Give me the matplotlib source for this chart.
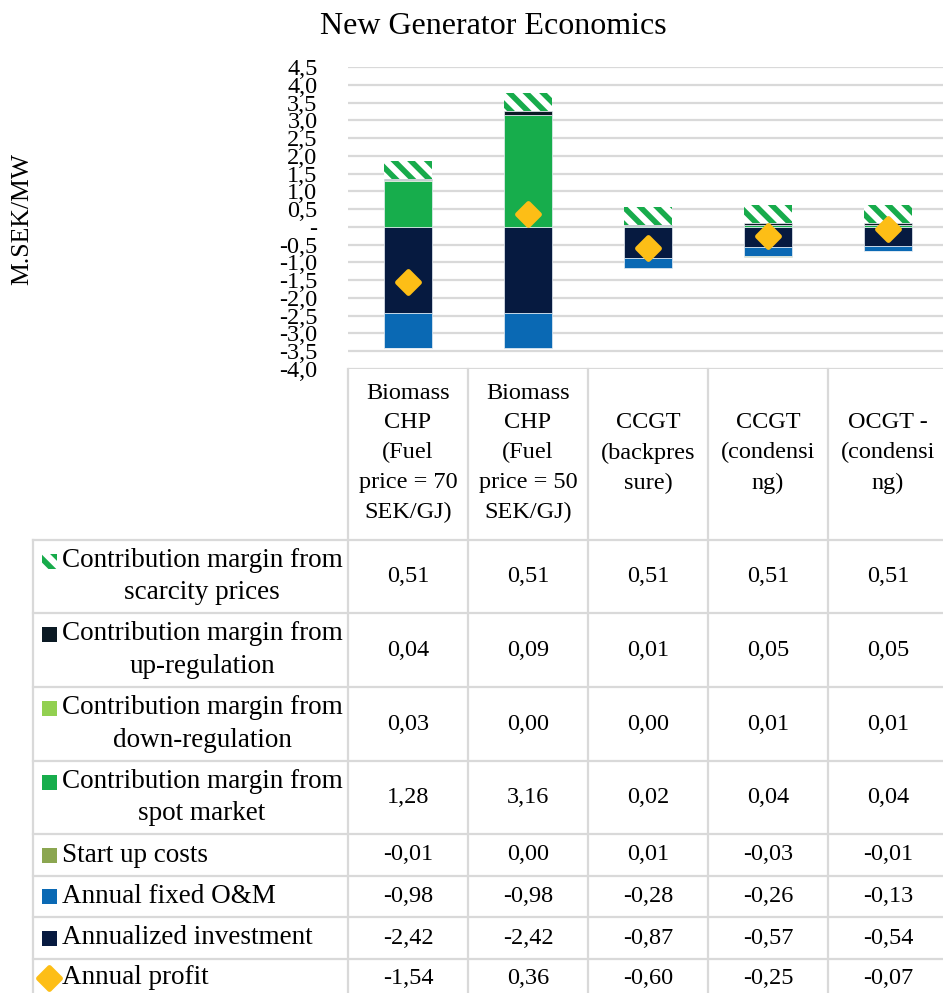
import matplotlib
matplotlib.use("Agg")
import matplotlib.pyplot as plt
import matplotlib.transforms as mtransforms
from matplotlib.markers import MarkerStyle
from matplotlib.patches import Rectangle
from matplotlib.lines import Line2D
import numpy as np

# ---------------- data ----------------
categories = [
    "Biomass\nCHP\n(Fuel\nprice = 70\nSEK/GJ)",
    "Biomass\nCHP\n(Fuel\nprice = 50\nSEK/GJ)",
    "CCGT\n(backpres\nsure)",
    "CCGT\n(condensi\nng)",
    "OCGT -\n(condensi\nng)",
]
row_labels = [
    "Contribution margin from\nscarcity prices",
    "Contribution margin from\nup-regulation",
    "Contribution margin from\ndown-regulation",
    "Contribution margin from\nspot market",
    "Start up costs",
    "Annual fixed O&M",
    "Annualized investment",
    "Annual profit",
]
scarcity = [0.51, 0.51, 0.51, 0.51, 0.51]
up_reg = [0.04, 0.09, 0.01, 0.05, 0.05]
down_reg = [0.03, 0.00, 0.00, 0.01, 0.01]
spot = [1.28, 3.16, 0.02, 0.04, 0.04]
start_up = [-0.01, 0.00, 0.01, -0.03, -0.01]
fixed_om = [-0.98, -0.98, -0.28, -0.26, -0.13]
investment = [-2.42, -2.42, -0.87, -0.57, -0.54]
profit = [-1.54, 0.36, -0.60, -0.25, -0.07]

y_ticks = [4.5, 4.0, 3.5, 3.0, 2.5, 2.0, 1.5, 1.0, 0.5, 0.0,
           -0.5, -1.0, -1.5, -2.0, -2.5, -3.0, -3.5, -4.0]
y_tick_labels = ["4,5", "4,0", "3,5", "3,0", "2,5", "2,0", "1,5", "1,0", "0,5", "-",
                 "-0,5", "-1,0", "-1,5", "-2,0", "-2,5", "-3,0", "-3,5", "-4,0"]

# ---------------- style ----------------
C_SCAR = "#17AB4B"
C_UP = "#0B1A24"
C_DOWN = "#92D050"
C_SPOT = "#17AD4C"
C_START = "#8BA650"
C_OM = "#0A69B4"
C_INV = "#061A40"
C_PROF = "#FDBE16"
GRID = "#D9D9D9"

FONT = ["Liberation Serif", "DejaVu Serif"]
plt.rcParams["font.family"] = FONT
plt.rcParams["hatch.linewidth"] = 4.0
plt.rcParams["hatch.color"] = C_SCAR

W, H = 943, 993
fig = plt.figure(figsize=(W / 100, H / 100), dpi=100)

def fx(px):
    return px / W

def fy(py):
    return 1 - py / H

ax_left, ax_right, ax_top, ax_bot = 348, 948, 67, 369
ax = fig.add_axes([fx(ax_left), fy(ax_bot), fx(ax_right - ax_left), (ax_bot - ax_top) / H])
x = np.arange(len(categories))
bw = 0.4
HATCH = "\\\\"

# stacking order (Excel-like): investment, O&M, start up, spot, down, up, scarcity
stack = [
    (investment, C_INV, None),
    (fixed_om, C_OM, None),
    (start_up, C_START, None),
    (spot, C_SPOT, None),
    (down_reg, C_DOWN, None),
    (up_reg, C_UP, None),
    (scarcity, "white", HATCH),
]
pos_base = np.zeros(len(x))
neg_base = np.zeros(len(x))
for vals, col, hatch in stack:
    v = np.array(vals, dtype=float)
    base = np.where(v >= 0, pos_base, neg_base)
    if hatch:
        ax.bar(x, v, bw, bottom=base, color="white", edgecolor=C_SCAR,
               linewidth=0, hatch=hatch, zorder=3)
    else:
        ax.bar(x, v, bw, bottom=base, color=col, edgecolor="#E8EEF4",
               linewidth=0.5, zorder=3)
    pos_base = pos_base + np.where(v >= 0, v, 0)
    neg_base = neg_base + np.where(v < 0, v, 0)

dm = MarkerStyle("D", joinstyle="round")
ax.plot(x, profit, linestyle="none", marker=dm, markersize=11.5,
        markerfacecolor=C_PROF, markeredgecolor=C_PROF, markeredgewidth=3.5, zorder=5)

ax.set_xlim(-0.5, len(x) - 0.5)
ax.set_ylim(-4.0, 4.5)
ax.set_yticks(y_ticks)
ax.set_yticklabels(y_tick_labels, fontsize=17.5)
ax.tick_params(axis="y", length=0, pad=22)
ax.set_xticks([])
ax.grid(axis="y", color=GRID, linewidth=1.6, zorder=0)
ax.set_axisbelow(True)
for s in ax.spines.values():
    s.set_visible(False)

fig.text(fx(493), fy(27), "New Generator Economics", fontsize=23,
         ha="center", va="center")
fig.text(fx(22), fy(219), "M.SEK/MW", fontsize=18.5, rotation=90,
         ha="center", va="center")

# ---------------- data table ----------------
blend = mtransforms.blended_transform_factory(ax.transData, fig.transFigure)
row_edges = [540, 613, 687, 761, 834, 876, 917, 959, 1001]
tbl_left = 33
lw_t = 1.6

for i in range(len(x) + 1):
    xv = i - 0.5
    fig.add_artist(Line2D([xv, xv], [fy(ax_bot), fy(row_edges[-1])], transform=blend,
                          color=GRID, linewidth=lw_t, zorder=1))
for i, cat in enumerate(categories):
    fig.text(i, fy(453), cat, transform=blend, fontsize=17.5, ha="center",
             va="center", multialignment="center", linespacing=1.55)

for r in row_edges:
    fig.add_artist(Line2D([fx(tbl_left), fx(ax_right)], [fy(r)] * 2,
                          transform=fig.transFigure, color=GRID, linewidth=lw_t))
fig.add_artist(Line2D([fx(tbl_left)] * 2, [fy(row_edges[0]), fy(row_edges[-1])],
                      transform=fig.transFigure, color=GRID, linewidth=lw_t))

table_rows = [scarcity, up_reg, down_reg, spot, start_up, fixed_om, investment, profit]
key_colors = [None, C_UP, C_DOWN, C_SPOT, C_START, C_OM, C_INV, None]

def fmt(v):
    s = f"{v:.2f}".replace(".", ",")
    if s == "-0,00":
        s = "0,00"
    return s

for r, (label, vals, kc) in enumerate(zip(row_labels, table_rows, key_colors)):
    top, bot = row_edges[r], row_edges[r + 1]
    yc = (top + bot) / 2
    if r == len(row_labels) - 1:
        yc = 978
    two = "\n" in label
    if two:
        fig.text(fx(202), fy(yc), label, fontsize=19.5, ha="center", va="center",
                 multialignment="center", linespacing=1.4)
        ky = yc - 15.5
    else:
        fig.text(fx(62), fy(yc), label, fontsize=19.5, ha="left", va="center")
        ky = yc
    if r == 0:
        fig.add_artist(Rectangle((fx(42), fy(ky + 7.5)), fx(15), 15 / H,
                                 transform=fig.transFigure, facecolor="white",
                                 edgecolor=C_SCAR, linewidth=0, hatch=HATCH))
    elif kc is not None:
        fig.add_artist(Rectangle((fx(42), fy(ky + 7.5)), fx(15), 15 / H,
                                 transform=fig.transFigure, facecolor=kc,
                                 edgecolor="none"))
    else:
        fig.add_artist(Line2D([fx(49)], [fy(ky)], transform=fig.transFigure,
                              linestyle="none", marker=dm, markersize=11.5,
                              markerfacecolor=C_PROF, markeredgecolor=C_PROF,
                              markeredgewidth=3.5))
    for i, v in enumerate(vals):
        fig.text(i, fy(yc), fmt(v), transform=blend, fontsize=17.5, ha="center",
                 va="center")

fig.savefig("out.png", dpi=100)
